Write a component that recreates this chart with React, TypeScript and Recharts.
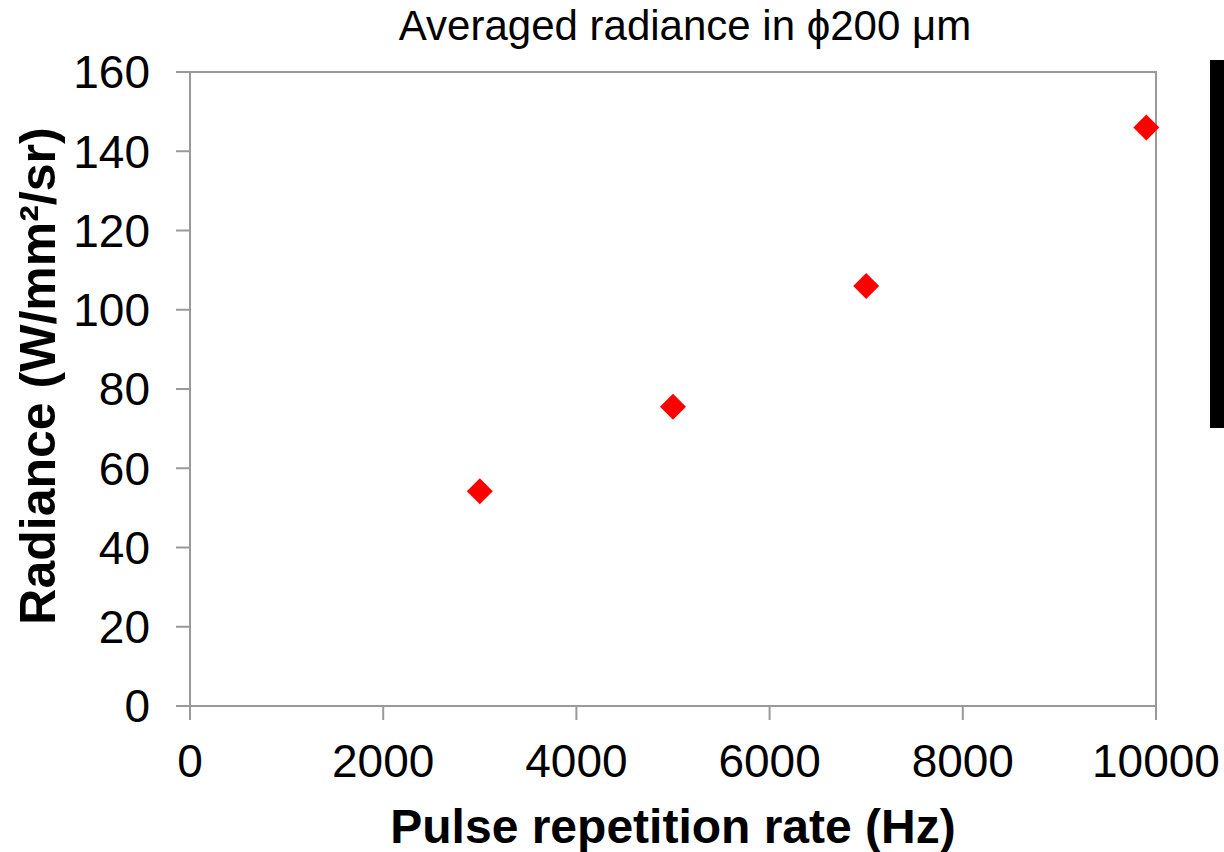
import React from "react";
import { ScatterChart, Scatter, XAxis, YAxis, ReferenceArea, Label } from "recharts";

const rates = [3000, 5000, 7000, 9900];
const radiance = [54.2, 75.5, 106, 146];
const xTicks = [0, 2000, 4000, 6000, 8000, 10000];
const yTicks = [0, 20, 40, 60, 80, 100, 120, 140, 160];

const data = rates.map((r, i) => ({ x: r, y: radiance[i] }));

const FONT = "'Liberation Sans', Arial, sans-serif";
const GRAY = "#999999";

const Diamond = (props: any) => {
  const { cx, cy } = props;
  const r = 13;
  return (
    <polygon
      points={`${cx},${cy - r} ${cx + r},${cy} ${cx},${cy + r} ${cx - r},${cy}`}
      fill="#ff0000"
    />
  );
};

const XTitle = () => (
  <text x={673} y={843} textAnchor="middle" fontSize={48} fontWeight="bold" fontFamily={FONT} fill="#000">
    Pulse repetition rate (Hz)
  </text>
);

const YTitle = () => (
  <text x={55} y={376} transform="rotate(-90 55 376)" textAnchor="middle" fontSize={50} fontWeight="bold" fontFamily={FONT} fill="#000">
    Radiance (W/mm²/sr)
  </text>
);

export default function App() {
  return (
    <div style={{ position: "absolute", left: 0, top: 0, width: 1224, height: 852, background: "#fff", fontFamily: FONT }}>
      <ScatterChart width={1224} height={852} margin={{ top: 72, right: 68, bottom: 0, left: 0 }}>
        <XAxis
          type="number"
          dataKey="x"
          domain={[0, 10000]}
          ticks={xTicks}
          interval={0}
          height={146}
          tickSize={14}
          tickMargin={24}
          stroke={GRAY}
          strokeWidth={2}
          tick={{ fill: "#000", fontSize: 46, fontFamily: FONT }}
        >
          <Label content={<XTitle />} />
        </XAxis>
        <YAxis
          type="number"
          dataKey="y"
          domain={[0, 160]}
          ticks={yTicks}
          interval={0}
          width={190}
          tickSize={14}
          tickMargin={26}
          stroke={GRAY}
          strokeWidth={2}
          tick={{ fill: "#000", fontSize: 46, fontFamily: FONT }}
        >
          <Label content={<YTitle />} />
        </YAxis>
        <ReferenceArea x1={0} x2={10000} y1={0} y2={160} fill="none" stroke={GRAY} strokeWidth={2} ifOverflow="visible" />
        <Scatter data={data} isAnimationActive={false} shape={<Diamond />} />
      </ScatterChart>
      <div style={{ position: "absolute", left: 0, width: 1370, top: 5, textAlign: "center", fontSize: 42, lineHeight: "42px", color: "#000", whiteSpace: "nowrap" }}>
        Averaged radiance in ϕ200 μm
      </div>
      <div style={{ position: "absolute", left: 1210, top: 60, width: 14, height: 368, background: "#000" }} />
    </div>
  );
}
